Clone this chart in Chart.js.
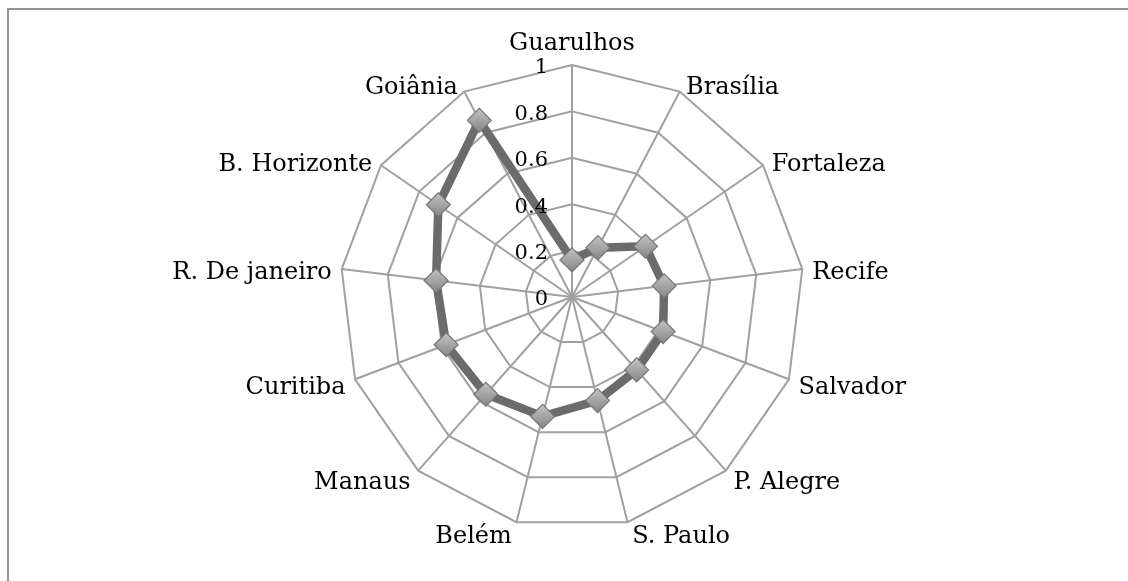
<!DOCTYPE html>
<html>
<head>
<meta charset="utf-8">
<script src="https://cdn.jsdelivr.net/npm/chart.js@4/dist/chart.umd.min.js"></script>
<style>
  html, body { margin: 0; padding: 0; background: #fff; }
  #wrap { position: relative; width: 1128px; height: 581px; }
  #frame { position: absolute; left: 7px; top: 8px; right: 0; bottom: 0; border-left: 2px solid #949494; border-top: 2px solid #949494; }
  canvas { position: absolute; left: 0; top: 0; }
</style>
</head>
<body>
<div id="wrap">
  <div id="frame"></div>
  <canvas id="radar" width="1128" height="581"></canvas>
</div>
<script>
// cities around the radar, clockwise from the top
const cities = ['Guarulhos', 'Brasília', 'Fortaleza', 'Recife', 'Salvador', 'P. Alegre', 'S. Paulo',
  'Belém', 'Manaus', 'Curitiba', 'R. De janeiro', 'B. Horizonte', 'Goiânia'];
const scores = [0.16, 0.24, 0.385, 0.40, 0.42, 0.42, 0.46, 0.53, 0.56, 0.58, 0.59, 0.70, 0.86];
const tickValues = [0, 0.2, 0.4, 0.6, 0.8, 1];
const tickLabels = ['0', '0.2', '0.4', '0.6', '0.8', '1'];

const FONT = '"DejaVu Serif", "Liberation Serif", serif';

// Excel style labels: ticks left of the vertical axis, city names hugging the outer ring
const labelPlugin = {
  id: 'excelLabels',
  afterDatasetsDraw(chart) {
    const scale = chart.scales.r;
    const ctx = chart.ctx;
    ctx.save();
    ctx.fillStyle = '#000';

    ctx.font = '21px ' + FONT;
    ctx.textAlign = 'right';
    ctx.textBaseline = 'middle';
    tickValues.forEach((v, i) => {
      const d = scale.getDistanceFromCenterForValue(v);
      ctx.fillText(tickLabels[i], scale.xCenter - 24, scale.yCenter - d + 3);
    });

    ctx.font = '24px ' + FONT;
    ctx.textBaseline = 'alphabetic';
    const outer = scale.getDistanceFromCenterForValue(1);
    cities.forEach((name, i) => {
      const p = scale.getPointPosition(i, outer);
      const a = p.angle + Math.PI / 2;           // 0 at top, clockwise
      const s = Math.sin(a), c = Math.cos(a);
      if (Math.abs(s) < 0.05) {
        ctx.textAlign = 'center';
        ctx.fillText(name, p.x, c > 0 ? p.y - 15 : p.y + 34);
        return;
      }
      const gap = 3 + 7 * Math.abs(s);
      ctx.textAlign = s > 0 ? 'left' : 'right';
      ctx.fillText(name, p.x + (s > 0 ? gap : -gap), p.y + 1 + 10 * (1 - c));
    });
    ctx.restore();
  }
};

function markerFill(c) {
  const scale = c.chart.scales.r;
  if (!scale || c.dataIndex === undefined) return '#a0a0a0';
  const p = scale.getPointPositionForValue(c.dataIndex, scores[c.dataIndex]);
  const g = c.chart.ctx.createLinearGradient(0, p.y - 12, 0, p.y + 12);
  g.addColorStop(0, '#c4c4c4');
  g.addColorStop(1, '#858585');
  return g;
}

new Chart(document.getElementById('radar'), {
  type: 'radar',
  data: {
    labels: cities,
    datasets: [{
      data: scores,
      borderColor: '#6b6b6b',
      borderWidth: 8.5,
      fill: false,
      pointStyle: 'rectRot',
      pointRadius: 12,
      pointHoverRadius: 12,
      pointBackgroundColor: markerFill,
      pointBorderColor: '#777777',
      pointBorderWidth: 1.2
    }]
  },
  options: {
    responsive: false,
    animation: false,
    layout: { padding: { left: 16, top: 65, bottom: 52 } },
    plugins: { legend: { display: false }, tooltip: { enabled: false } },
    elements: { line: { tension: 0 } },
    scales: {
      r: {
        min: 0,
        max: 1,
        ticks: { display: false, stepSize: 0.2 },
        grid: { color: '#a0a0a0', lineWidth: 2 },
        angleLines: { color: '#a0a0a0', lineWidth: 2 },
        pointLabels: { display: false }
      }
    }
  },
  plugins: [labelPlugin]
});
</script>
</body>
</html>
